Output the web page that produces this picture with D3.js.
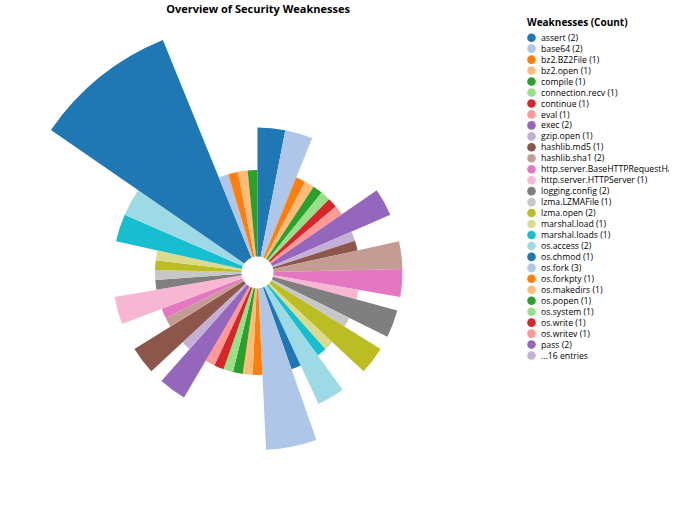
<!DOCTYPE html>
<html>
<head>
<meta charset="utf-8">
<script src="https://cdn.jsdelivr.net/npm/d3@7"></script>
<style>
  body { margin: 0; background: #fff; }
  svg { font-family: "Open Sans", sans-serif; }
</style>
</head>
<body>
<svg id="chart" width="680" height="530"></svg>
<script>
// weakness names (sorted) and how often each was found
var names = ["assert", "base64", "bz2.BZ2File", "bz2.open", "compile", "connection.recv",
  "continue", "eval", "exec", "gzip.open", "hashlib.md5", "hashlib.sha1",
  "http.server.BaseHTTPRequestHandler", "http.server.HTTPServer", "logging.config",
  "lzma.LZMAFile", "lzma.open", "marshal.load", "marshal.loads", "os.access", "os.chmod",
  "os.fork", "os.forkpty", "os.makedirs", "os.popen", "os.system", "os.write", "os.writev",
  "pass", "pickle.load", "pickle.loads", "random.choice", "random.randint", "requests.get",
  "shelve.open", "socket.bind", "subprocess.Popen", "subprocess.call",
  "subprocess.check_output", "subprocess.run", "try_except_pass", "urllib.request.urlopen",
  "xml.etree.ElementTree.parse", "yaml.load", "zipfile.ZipFile"];
var counts = [2, 2, 1, 1, 1, 1,
  1, 1, 2, 1, 1, 2,
  2, 1, 2,
  1, 2, 1, 1, 2, 1,
  3, 1, 1, 1, 1, 1, 1,
  2, 1, 2, 1, 1, 2,
  1, 1, 1, 1,
  2, 2, 6, 1,
  1, 1, 1];

var tableau20 = ["#1f77b4", "#aec7e8", "#ff7f0e", "#ffbb78", "#2ca02c", "#98df8a",
  "#d62728", "#ff9896", "#9467bd", "#c5b0d5", "#8c564b", "#c49c94", "#e377c2",
  "#f7b6d2", "#7f7f7f", "#c7c7c7", "#bcbd22", "#dbdb8d", "#17becf", "#9edae5"];

var legendLimit = 29;

var data = names.map(function (n, i) { return {name: n, count: counts[i]}; });

var svg = d3.select("#chart");
var cx = 257.5, cy = 272.5;

var color = d3.scaleOrdinal()
  .domain(names)
  .range(tableau20);

var radius = d3.scaleSqrt()
  .domain([0, d3.max(counts)])
  .range([0, 251]);

var pie = d3.pie()
  .sort(null)
  .value(function (d) { return d.count; });

var arc = d3.arc()
  .innerRadius(16)
  .outerRadius(function (d) { return radius(d.data.count); });

svg.append("g")
  .attr("transform", "translate(" + cx + "," + cy + ")")
  .selectAll("path")
  .data(pie(data))
  .enter()
  .append("path")
    .attr("d", arc)
    .attr("fill", function (d) { return color(d.data.name); });

// title
svg.append("text")
  .attr("x", 258)
  .attr("y", 13)
  .attr("text-anchor", "middle")
  .style("font-size", "11px")
  .style("font-weight", "bold")
  .text("Overview of Security Weaknesses");

// legend
var legend = svg.append("g").attr("transform", "translate(527,0)");

svg.append("clipPath").attr("id", "legclip")
  .append("rect").attr("x", 0).attr("y", 0).attr("width", 142).attr("height", 530);

legend.append("text")
  .attr("x", 0)
  .attr("y", 26)
  .style("font-size", "10px")
  .style("font-weight", "bold")
  .text("Weaknesses (Count)");

var rows = data.slice(0, legendLimit).map(function (d) {
  return {label: d.name + " (" + d.count + ")", fill: color(d.name)};
});
rows.push({label: "\u2026" + (data.length - legendLimit) + " entries",
  fill: color(names[legendLimit])});

var row = legend.append("g")
  .attr("clip-path", "url(#legclip)")
  .selectAll("g")
  .data(rows)
  .enter()
  .append("g")
    .attr("transform", function (d, i) { return "translate(0," + (37.7 + i * 10.96) + ")"; });

row.append("circle")
  .attr("cx", 4.5)
  .attr("r", 4.3)
  .attr("fill", function (d) { return d.fill; });

row.append("text")
  .attr("x", 14)
  .attr("y", 3.1)
  .style("font-size", "8.7px")
  .attr("fill", "#000")
  .text(function (d) { return d.label; });
</script>
</body>
</html>
